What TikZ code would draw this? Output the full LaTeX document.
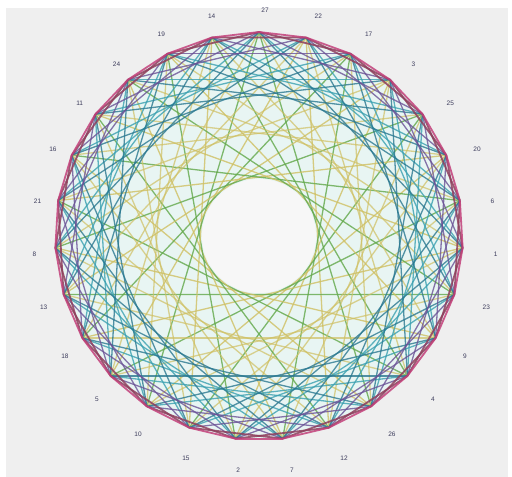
\documentclass[tikz,border=0pt]{standalone}
\usepackage{fontspec}
\setmainfont{Liberation Sans}
\definecolor{bg}{HTML}{EFEFEF}
\definecolor{disk}{HTML}{E8F5F3}
\definecolor{hole}{HTML}{F7F7F7}
\definecolor{lblc}{HTML}{3C3C5C}
\definecolor{cA}{HTML}{C2407A}
\definecolor{cB}{HTML}{8E3E5C}
\definecolor{cD}{HTML}{6A5296}
\definecolor{cF}{HTML}{3AA0B0}
\definecolor{cG}{HTML}{2A7890}
\definecolor{cY}{HTML}{CFC062}
\definecolor{cK}{HTML}{62A84A}
\tikzset{
  lbl/.style={font=\fontsize{6.5}{7}\selectfont, text=lblc, inner sep=0pt},
  chord/.style={line width=1.3pt, opacity=0.8},
  rim/.style={line width=1.8pt, opacity=0.85},
}
\begin{document}
\begin{tikzpicture}[x=1pt,y=-1pt]
\useasboundingbox (0,0) rectangle (512,477);
\fill[white] (0,0) rectangle (512,477);
\fill[bg] (6,8) rectangle (508,477);
\fill[disk] (259,236) circle[radius=202];
\fill[hole] (259,236) circle[radius=57];
\foreach \k in {0,...,26} {
  \coordinate (p\k) at ({259+204*sin(\k*360/27)},{236-204*cos(\k*360/27)});
}
% skip 11: alternating yellow and green
\foreach \k in {0,...,26} {
  \pgfmathtruncatemacro\j{mod(\k+11,27)}
  \pgfmathtruncatemacro\e{mod(\k,2)}
  \ifnum\e=0 \draw[chord, cK] (p\k) -- (p\j); \else \draw[chord, cY] (p\k) -- (p\j); \fi
}
\foreach \k in {0,...,26} {
  \pgfmathtruncatemacro\j{mod(\k+9,27)}
  \draw[chord, cY, opacity=0.7] (p\k) -- (p\j);
}
\foreach \s/\c in {6/cF,7/cG,4/cD} {
  \foreach \k in {0,...,26} {
    \pgfmathtruncatemacro\j{mod(\k+\s,27)}
    \draw[chord, \c] (p\k) -- (p\j);
  }
}
\foreach \s/\c in {2/cB,1/cA} {
  \foreach \k in {0,...,26} {
    \pgfmathtruncatemacro\j{mod(\k+\s,27)}
    \draw[rim, \c] (p\k) -- (p\j);
  }
}
\foreach \lab [count=\k from 0] in {27,22,17,3,25,20,6,1,23,9,4,26,12,7,2,15,10,5,18,13,8,21,16,11,24,19,14} {
  \node[lbl] (l\k) at ({265+231*sin(\k*360/27)},{241-231*cos(\k*360/27)}) {\lab};
}
\end{tikzpicture}
\end{document}
